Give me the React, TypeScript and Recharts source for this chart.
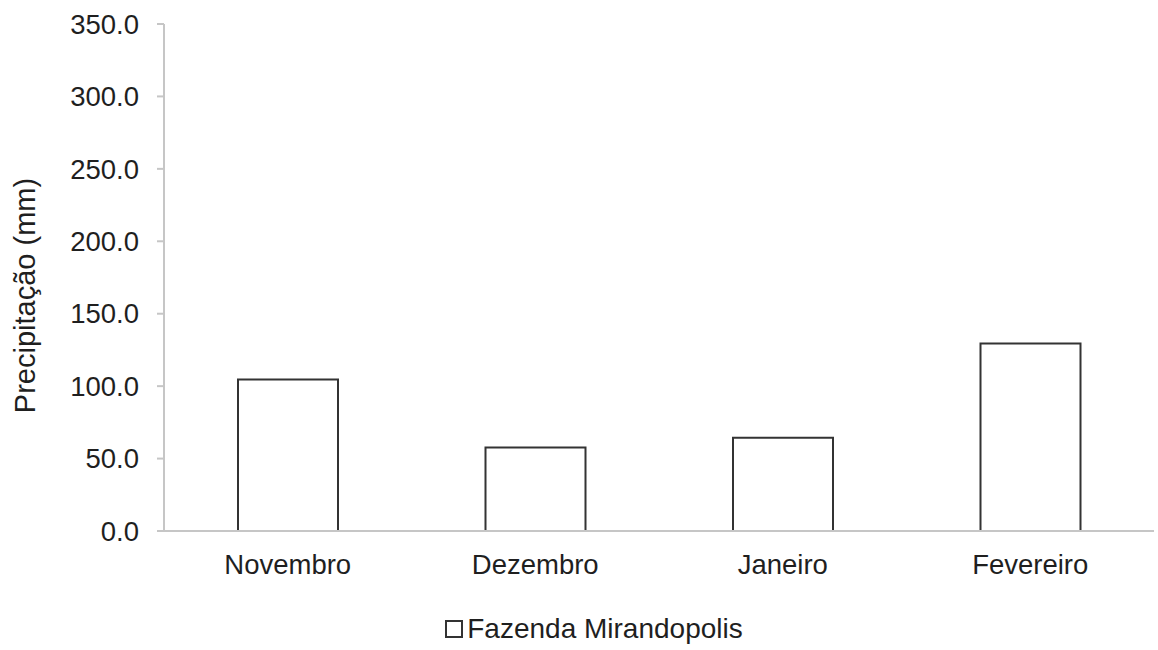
import { BarChart, Bar, XAxis, YAxis, Legend } from "recharts";

const months = ["Novembro", "Dezembro", "Janeiro", "Fevereiro"];
const precipitation = [104.6, 57.6, 64.3, 129.4];
const yTicks = [0, 50, 100, 150, 200, 250, 300, 350];
const seriesName = "Fazenda Mirandopolis";

const data = months.map((month, i) => ({ month, value: precipitation[i] }));

const FONT = "'Liberation Sans', Arial, Helvetica, sans-serif";
const AXIS_GREY = "#c6c6c6";
const TEXT = "#1f1f1f";

type LabelProps = { viewBox?: { x: number; y: number; width: number; height: number } };

const YLabel = ({ viewBox }: LabelProps) => {
    if (!viewBox) return null;
    const cx = viewBox.x + 25;
    const cy = viewBox.y + viewBox.height / 2 + 18;
    return (
        <text
            x={cx}
            y={cy}
            transform={`rotate(-90 ${cx} ${cy})`}
            textAnchor="middle"
            dominantBaseline="central"
            fontSize={29}
            fontFamily={FONT}
            fill={TEXT}
        >
            Precipitação (mm)
        </text>
    );
};

const LegendBox = () => (
    <div
        style={{
            display: "flex",
            justifyContent: "center",
            alignItems: "center",
            height: 24,
            paddingLeft: 30,
            fontFamily: FONT,
            fontSize: 28,
            color: TEXT,
        }}
    >
        <span
            style={{
                display: "inline-block",
                width: 14,
                height: 14,
                border: "2px solid #333",
                background: "#fff",
                marginRight: 4,
            }}
        />
        <span>{seriesName}</span>
    </div>
);

export default function App() {
    return (
        <div style={{ position: "absolute", top: 0, left: 0, background: "#fff" }}>
            <BarChart
                width={1158}
                height={650}
                data={data}
                margin={{ top: 24, right: 4, left: 0, bottom: 0 }}
            >
                <XAxis
                    dataKey="month"
                    height={95}
                    tickLine={false}
                    tickSize={0}
                    tickMargin={23}
                    axisLine={{ stroke: AXIS_GREY, strokeWidth: 2 }}
                    tick={{ fontSize: 27.5, fontFamily: FONT, fill: TEXT }}
                />
                <YAxis
                    width={164}
                    domain={[0, 350]}
                    ticks={yTicks}
                    interval={0}
                    tickFormatter={(v: number) => v.toFixed(1)}
                    tickSize={7}
                    tickMargin={18}
                    axisLine={{ stroke: AXIS_GREY, strokeWidth: 2 }}
                    tickLine={{ stroke: AXIS_GREY, strokeWidth: 2 }}
                    tick={{ fontSize: 27.5, fontFamily: FONT, fill: TEXT }}
                    label={<YLabel />}
                />
                <Legend
                    verticalAlign="bottom"
                    content={<LegendBox />}
                    wrapperStyle={{ top: 617, left: 0, width: 1158, bottom: "auto" }}
                />
                <Bar
                    dataKey="value"
                    name={seriesName}
                    barSize={100}
                    fill="#ffffff"
                    stroke="#333333"
                    strokeWidth={2}
                    isAnimationActive={false}
                />
            </BarChart>
        </div>
    );
}
